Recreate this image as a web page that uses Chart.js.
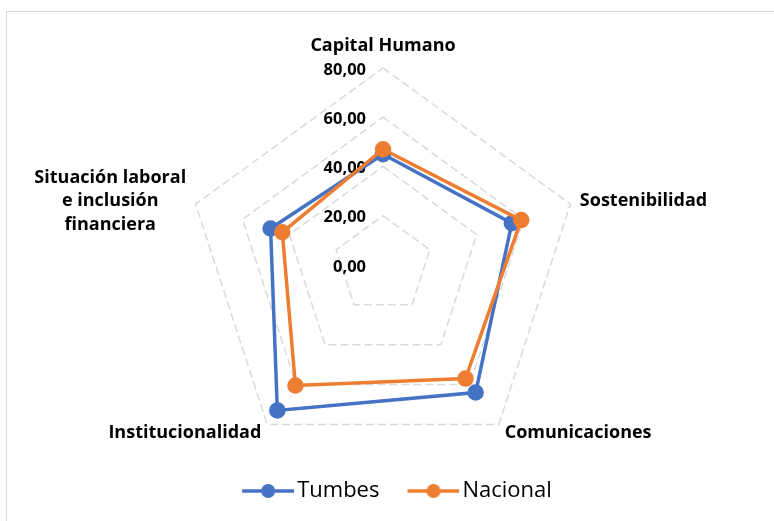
<!DOCTYPE html>
<html lang="es">
  <head>
    <meta charset="UTF-8" />
    <title>Tumbes vs Nacional</title>
    <style>
      html, body { margin: 0; padding: 0; background: #fff; overflow: hidden; }
      .wrap { position: relative; width: 774px; height: 521px; }
      .frame {
        position: absolute; left: 6px; top: 11px;
        width: 820px; height: 560px;
        border: 1px solid #d9d9d9;
      }
      #radarChart { position: absolute; left: 0; top: 0; }
    </style>
  </head>
  <body>
    <div class="wrap">
      <div class="frame"></div>
      <canvas id="radarChart" width="774" height="521"></canvas>
    </div>

    <script src="https://cdn.jsdelivr.net/npm/chart.js@4.4.0/dist/chart.umd.min.js"></script>
    <script>
      // Data
      const categories = [
        "Capital Humano",
        "Sostenibilidad",
        "Comunicaciones",
        "Institucionalidad",
        ["Situación laboral", "e inclusión", "financiera"],
      ];
      const tumbes = [45, 55, 64, 73, 48];
      const nacional = [47, 59, 57, 60.5, 43];
      const tickValues = [0, 20, 40, 60, 80];
      const seriesNames = ["Tumbes", "Nacional"];
      const seriesColors = ["#4472C4", "#ED7D31"];

      const FONT = "'Open Sans', Lato, sans-serif";

      // legend marker: line with a dot, like Excel
      function makeMarker(color) {
        const c = document.createElement("canvas");
        c.width = 88;
        c.height = 18;
        const g = c.getContext("2d");
        g.strokeStyle = color;
        g.lineWidth = 3.5;
        g.beginPath();
        g.moveTo(36, 9);
        g.lineTo(88, 9);
        g.stroke();
        g.fillStyle = color;
        g.beginPath();
        g.arc(62, 9, 7, 0, Math.PI * 2);
        g.fill();
        return c;
      }

      // tick labels to the left of the vertical axis
      const tickLabels = {
        id: "tickLabels",
        beforeDatasetsDraw(chart) {
          const scale = chart.scales.r;
          const ctx = chart.ctx;
          ctx.save();
          ctx.font = "bold 16.5px " + FONT;
          ctx.fillStyle = "#000";
          ctx.textAlign = "right";
          ctx.textBaseline = "middle";
          tickValues.forEach((v) => {
            const d = scale.getDistanceFromCenterForValue(v);
            const txt = v.toFixed(2).replace(".", ",");
            ctx.fillText(txt, scale.xCenter - 17, scale.yCenter - d + 2);
          });
          ctx.restore();
        },
      };

      // category labels around the pentagon (centered lines, Excel style)
      const axisLabels = {
        id: "axisLabels",
        afterDraw(chart) {
          const scale = chart.scales.r;
          const ctx = chart.ctx;
          const lineH = 23.5;
          ctx.save();
          ctx.font = "bold 18px " + FONT;
          ctx.fillStyle = "#000";
          ctx.textBaseline = "middle";
          categories.forEach((label, i) => {
            const lines = Array.isArray(label) ? label : [label];
            const p = scale.getPointPosition(i, scale.drawingArea + 10);
            const dx = p.x - scale.xCenter;
            const dy = p.y - scale.yCenter;
            const maxW = Math.max(...lines.map((l) => ctx.measureText(l).width));
            let cx;
            if (Math.abs(dx) < 5) cx = p.x;
            else if (dx > 0) cx = p.x + maxW / 2;
            else cx = p.x - maxW / 2;
            const blockH = lines.length * lineH;
            let top;
            if (dy < -scale.drawingArea * 0.9) top = p.y - blockH;
            else top = p.y - blockH / 2;
            ctx.textAlign = "center";
            lines.forEach((l, k) => {
              ctx.fillText(l, cx, top + lineH * (k + 0.5));
            });
          });
          ctx.restore();
        },
      };

      const ctx = document.getElementById("radarChart").getContext("2d");
      const radarChart = new Chart(ctx, {
        type: "radar",
        data: {
          labels: categories,
          datasets: [
            {
              label: seriesNames[0],
              data: tumbes,
              borderColor: seriesColors[0],
              backgroundColor: seriesColors[0],
              pointBackgroundColor: seriesColors[0],
              pointBorderColor: seriesColors[0],
              borderWidth: 3.5,
              pointRadius: 6.5,
              fill: false,
              order: 1,
            },
            {
              label: seriesNames[1],
              data: nacional,
              borderColor: seriesColors[1],
              backgroundColor: seriesColors[1],
              pointBackgroundColor: seriesColors[1],
              pointBorderColor: seriesColors[1],
              borderWidth: 3.5,
              pointRadius: 6.5,
              fill: false,
              order: 0,
            },
          ],
        },
        options: {
          responsive: false,
          animation: false,
          layout: {
            padding: { top: 50, bottom: 9, left: 186, right: 194 },
          },
          plugins: {
            tooltip: { enabled: false },
            legend: {
              position: "bottom",
              reverse: true,
              labels: {
                usePointStyle: true,
                pointStyleWidth: 72,
                padding: 0,
                color: "#000",
                font: { family: FONT, size: 22 },
                generateLabels(chart) {
                  const items = Chart.defaults.plugins.legend.labels.generateLabels(chart);
                  items.forEach((it) => {
                    it.pointStyle = makeMarker(seriesColors[it.datasetIndex]);
                  });
                  return items;
                },
              },
            },
          },
          scales: {
            r: {
              min: 0,
              max: 80,
              ticks: { stepSize: 20, display: false },
              angleLines: { display: false },
              grid: { color: "#d9d9d9", lineWidth: 1.5 },
              border: { dash: [8, 4] },
              pointLabels: { display: false },
            },
          },
        },
        plugins: [tickLabels, axisLabels],
      });
    </script>
  </body>
</html>
